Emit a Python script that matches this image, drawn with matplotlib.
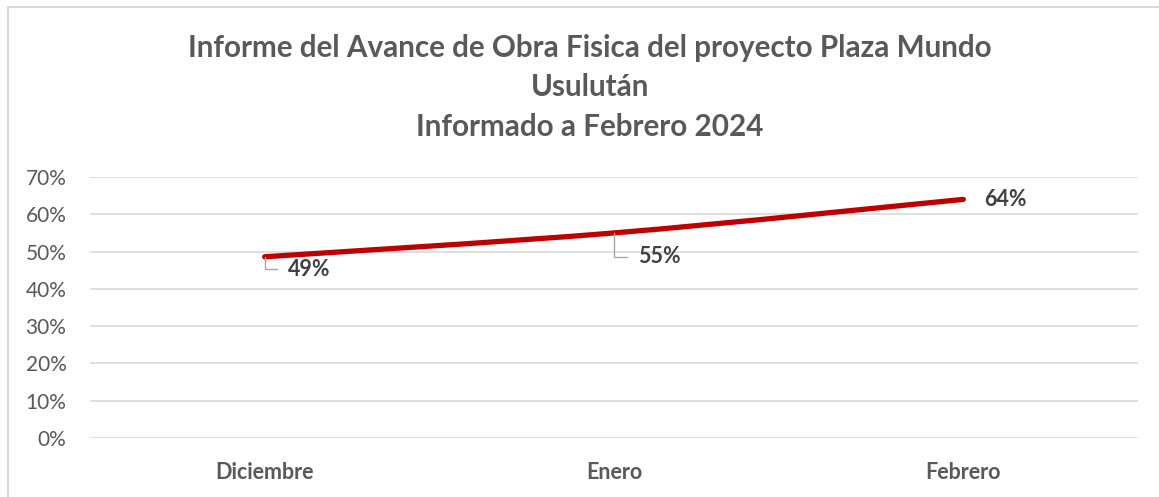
import matplotlib
matplotlib.use("Agg")
import matplotlib.pyplot as plt
from matplotlib.path import Path
from matplotlib.patches import PathPatch, Rectangle
import numpy as np

categories = ["Diciembre", "Enero", "Febrero"]
values = [0.486, 0.55, 0.64]
labels = ["49%", "55%", "64%"]
yticks = [0, 0.1, 0.2, 0.3, 0.4, 0.5, 0.6, 0.7]
ytick_labels = ["0%", "10%", "20%", "30%", "40%", "50%", "60%", "70%"]
title = "Informe del Avance de Obra Fisica del proyecto Plaza Mundo\nUsulután\nInformado a Febrero 2024"

W, H = 1159, 497
fig = plt.figure(figsize=(W / 100, H / 100), dpi=100)
fig.patch.set_facecolor("white")

# outer chart border
fig.patches.append(Rectangle((8 / W, -0.1), 1.2, (H - 7) / H + 0.1, transform=fig.transFigure,
                             fill=False, edgecolor="#d0d0d0", linewidth=1.2))

ax = fig.add_axes([90 / W, (H - 438) / H, (1138 - 90) / W, (438 - 177) / H])
ax.set_xlim(-0.5, len(categories) - 0.5)
ax.set_ylim(0, 0.7)
for s in ax.spines.values():
    s.set_visible(False)
ax.set_yticks(yticks)
ax.set_yticklabels(ytick_labels)
ax.set_xticks(range(len(categories)))
ax.set_xticklabels(categories)
ax.tick_params(axis="both", length=0)
ax.tick_params(axis="y", pad=17, labelsize=15, labelcolor="#595959")
ax.tick_params(axis="x", pad=17, labelsize=15.5, labelcolor="#595959")
for t in ax.get_xticklabels():
    t.set_fontweight("bold")
    t.set_fontfamily("Lato")
for t in ax.get_yticklabels():
    t.set_fontfamily("Lato")
ax.grid(axis="y", color="#d9d9d9", linewidth=1.2)
ax.set_axisbelow(True)

# smoothed line (Catmull-Rom style bezier from the data)
xs = np.arange(len(values), dtype=float)
ys = np.array(values)
verts = [(xs[0], ys[0])]
codes = [Path.MOVETO]
n = len(xs)
for i in range(n - 1):
    p0 = (xs[max(i - 1, 0)], ys[max(i - 1, 0)])
    p1 = (xs[i], ys[i])
    p2 = (xs[i + 1], ys[i + 1])
    p3 = (xs[min(i + 2, n - 1)], ys[min(i + 2, n - 1)])
    c1 = (p1[0] + (p2[0] - p0[0]) / 6, p1[1] + (p2[1] - p0[1]) / 6)
    c2 = (p2[0] - (p3[0] - p1[0]) / 6, p2[1] - (p3[1] - p1[1]) / 6)
    verts += [c1, c2, p2]
    codes += [Path.CURVE4] * 3
ax.add_patch(PathPatch(Path(verts, codes), fill=False, edgecolor="#c00000",
                       linewidth=3.8, capstyle="round", zorder=3))

# data labels
lab_style = dict(fontsize=15.5, fontweight="bold", color="#404040", family="Lato")
# 49% and 55% with leader lines
offsets = [(32, -9), (33, -17)]
for i in range(2):
    ax.annotate(labels[i], xy=(xs[i], ys[i]), xytext=offsets[i], textcoords="offset points",
                ha="center", va="center", **lab_style,
                arrowprops=dict(arrowstyle="-", color="#a6a6a6", lw=1,
                                connectionstyle="angle,angleA=0,angleB=90,rad=0",
                                shrinkA=6, shrinkB=0))
ax.annotate(labels[2], xy=(xs[2], ys[2]), xytext=(30, 0), textcoords="offset points",
            ha="center", va="center", **lab_style)

fig.text(590 / W, 1 - 87 / H, title, ha="center", va="center", fontsize=21.3,
         fontweight="bold", color="#595959", family="Lato", linespacing=1.5)

fig.savefig("out.png", dpi=100)
